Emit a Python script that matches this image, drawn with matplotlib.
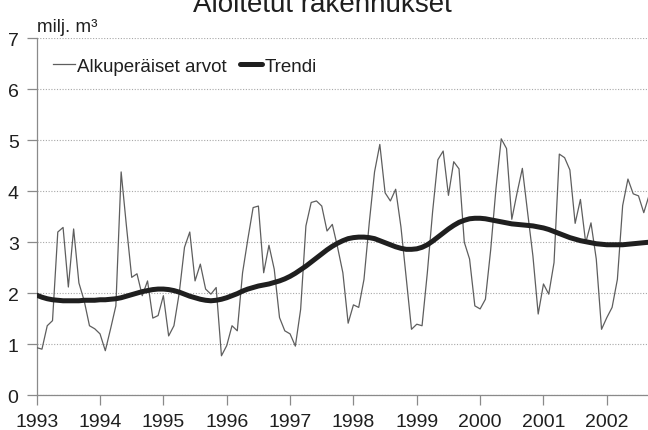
"""Aloitetut rakennukset: monthly building starts (milj. m3) with trend, 1993-2002."""

import numpy as np
import matplotlib
matplotlib.use("Agg")
import matplotlib.pyplot as plt  # noqa: E402

START_YEAR = 1993

# monthly values, Jan 1993 onwards
raw = [
    0.93, 0.90, 1.36, 1.46, 3.20, 3.29, 2.12, 3.26, 2.20, 1.85, 1.36, 1.30,   # 1993
    1.20, 0.87, 1.30, 1.75, 4.38, 3.32, 2.31, 2.38, 1.95, 2.24, 1.51, 1.56,   # 1994
    1.95, 1.16, 1.36, 2.00, 2.90, 3.20, 2.24, 2.57, 2.08, 1.98, 2.11, 0.77,   # 1995
    0.97, 1.36, 1.26, 2.40, 3.06, 3.68, 3.71, 2.40, 2.94, 2.47, 1.52, 1.26,   # 1996
    1.20, 0.96, 1.68, 3.32, 3.78, 3.81, 3.71, 3.22, 3.35, 2.90, 2.40, 1.41,   # 1997
    1.77, 1.72, 2.27, 3.38, 4.38, 4.92, 3.97, 3.81, 4.04, 3.30, 2.30, 1.29,   # 1998
    1.39, 1.36, 2.40, 3.60, 4.62, 4.79, 3.92, 4.58, 4.44, 3.00, 2.67, 1.75,   # 1999
    1.69, 1.88, 2.85, 4.05, 5.03, 4.84, 3.45, 3.97, 4.45, 3.58, 2.73, 1.59,   # 2000
    2.18, 1.98, 2.60, 4.73, 4.66, 4.42, 3.37, 3.84, 2.99, 3.38, 2.67, 1.29,   # 2001
    1.52, 1.72, 2.27, 3.72, 4.24, 3.95, 3.91, 3.58, 3.92,                     # 2002
]

trend = [
    1.96, 1.92, 1.89, 1.87, 1.86, 1.85, 1.85, 1.85, 1.85, 1.86, 1.86, 1.86,
    1.87, 1.87, 1.88, 1.89, 1.91, 1.94, 1.97, 2.00, 2.03, 2.05, 2.07, 2.08,
    2.08, 2.07, 2.05, 2.02, 1.98, 1.94, 1.91, 1.88, 1.86, 1.85, 1.86, 1.88,
    1.91, 1.95, 1.99, 2.04, 2.08, 2.11, 2.14, 2.16, 2.18, 2.21, 2.24, 2.28,
    2.33, 2.39, 2.46, 2.53, 2.61, 2.69, 2.77, 2.85, 2.92, 2.98, 3.03, 3.07,
    3.09, 3.10, 3.10, 3.09, 3.07, 3.03, 2.99, 2.95, 2.91, 2.88, 2.86, 2.86,
    2.87, 2.90, 2.95, 3.02, 3.10, 3.18, 3.26, 3.33, 3.39, 3.43, 3.46, 3.47,
    3.47, 3.46, 3.44, 3.42, 3.40, 3.38, 3.36, 3.35, 3.34, 3.33, 3.32, 3.30,
    3.28, 3.25, 3.21, 3.17, 3.13, 3.09, 3.06, 3.03, 3.01, 2.99, 2.97, 2.96,
    2.95, 2.95, 2.95, 2.95, 2.96, 2.97, 2.98, 2.99, 3.00,
]

years = list(range(1993, 2003))
yticks = [0, 1, 2, 3, 4, 5, 6, 7]

TITLE = "Aloitetut rakennukset"
UNIT = "milj. m³"
LABEL_RAW = "Alkuperäiset arvot"
LABEL_TREND = "Trendi"

INK = "#1f1f1f"
LINE = "#5e5e5e"
AXIS = "#8a8a8a"
GRID = "#a8a8a8"

plt.rcParams.update({
    "font.family": ["Liberation Sans", "DejaVu Sans"],
    "font.size": 13.5,
    "text.color": INK,
})

t = START_YEAR + np.arange(len(raw)) / 12.0

fig = plt.figure(figsize=(6.48, 4.31), dpi=100)
ax = fig.add_axes([0.0566, 0.0812, 0.9434, 0.8272])

ax.plot(t, raw, color=LINE, lw=0.9, zorder=3, label=LABEL_RAW)
ax.plot(t, trend, color=INK, lw=3.6, zorder=4, solid_capstyle="round",
        label=LABEL_TREND)

ax.set_xlim(START_YEAR, START_YEAR + 115.8 / 12)
ax.set_ylim(0, 7)
ax.set_xticks(years)
ax.set_xticklabels([str(y) for y in years])
ax.set_yticks(yticks)

ax.yaxis.grid(True, color=GRID, lw=0.8, ls=(0, (1, 1.5)), zorder=0)
ax.set_axisbelow(True)
for side in ("top", "right"):
    ax.spines[side].set_visible(False)
for side in ("left", "bottom"):
    ax.spines[side].set_color(AXIS)
    ax.spines[side].set_linewidth(0.9)
ax.tick_params(axis="x", length=7, width=0.9, color=AXIS, pad=6,
               labelsize=14, labelcolor=INK)
ax.tick_params(axis="y", length=7, width=0.9, color=AXIS, pad=6,
               labelsize=14, labelcolor=INK)

# title sits partly above the top edge, as in the source scan
fig.text(0.497, 1 - 12 / 431, TITLE, ha="center", va="baseline", fontsize=20)
fig.text(37 / 648, 1 - 32 / 431, UNIT, ha="left", va="baseline", fontsize=13.5)

fig.legend(loc="center left", bbox_to_anchor=(53 / 648, 1 - 67 / 431),
           bbox_transform=fig.transFigure, ncol=2, frameon=False,
           fontsize=13.5, handlelength=1.15, handletextpad=0.15,
           columnspacing=0.7, borderpad=0, borderaxespad=0)

fig.savefig("out.png", dpi=100)
